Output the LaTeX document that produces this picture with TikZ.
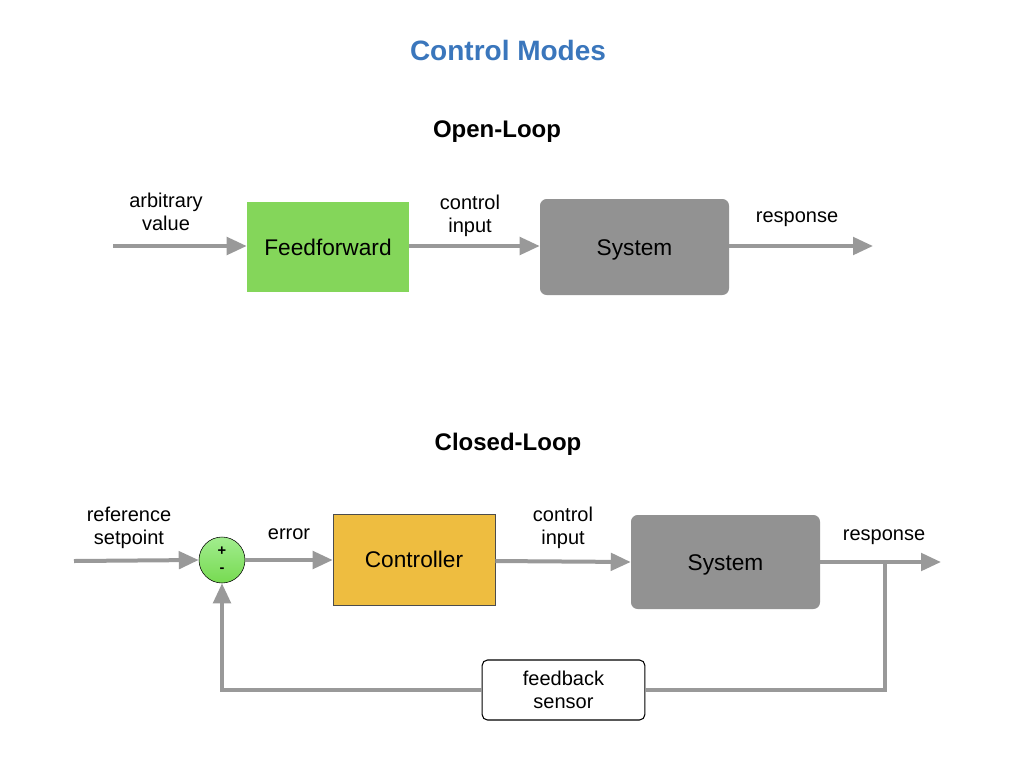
\documentclass[tikz,border=0pt]{standalone}
\usepackage{fontspec}
\setmainfont{Liberation Sans}
\usetikzlibrary{math,arrows.meta}
\definecolor{titleblue}{HTML}{3A76BC}
\definecolor{ffgreen}{HTML}{84D65A}
\definecolor{sysgray}{HTML}{929292}
\definecolor{ctrlyellow}{HTML}{EEBD40}
\definecolor{wiregray}{HTML}{999999}

\begin{document}
\begin{tikzpicture}[x=0.75pt, y=-0.75pt,
    wire/.style={draw=wiregray, line width=3pt, -{Triangle[length=15pt,width=13pt]}},
    line/.style={draw=wiregray, line width=3pt},
    lbl/.style={font=\fontsize{15}{17.5}\selectfont, align=center},
    head/.style={font=\fontsize{18}{21}\selectfont\bfseries},
    blk/.style={font=\fontsize{17}{20}\selectfont, minimum width=121.5pt, inner sep=0pt, text height=12pt, text depth=0pt}]
            \tikzmath{\yo = 246; \yc = 561;}
            \useasboundingbox (0,0) rectangle (1024,768);
            \node[font=\fontsize{21}{25}\selectfont\bfseries, text=titleblue] (T) at (508,50) {Control Modes};

            % open loop
            \node[head] (OL) at (497,132) {Open-Loop};
            \coordinate (A0) at (113,\yo);
            \node[blk, fill=ffgreen, minimum height=67.5pt] (A) at (328,247) {Feedforward};
            \node[blk, fill=sysgray, rounded corners=5pt, minimum width=141.75pt, minimum height=72pt] (B) at (634.5,247) {System};
            \coordinate (C) at (873,\yo);
            \draw[wire] (A0) -- (A.west |- A0);
            \draw[wire] (A.east |- A0) -- (B.west |- A0);
            \draw[wire] (B.east |- A0) -- (C);
            \node[lbl] (L1) at (166,212) {arbitrary\\value};
            \node[lbl] (L2) at (470,216) {control\\input};
            \node[lbl] (L3) at (797,219) {response};

            % closed loop
            \node[head] (CL) at (508,444) {Closed-Loop};
            \coordinate (S0) at (74,\yc);
            \node[circle, draw, thin, top color=green!25!ffgreen!60!white, bottom color=ffgreen!90!green, minimum size=34.5pt, inner sep=0pt,
                  font=\fontsize{11}{12.75}\selectfont\bfseries, align=center] (S) at (222,560) {+\\-};
            \node[blk, fill=ctrlyellow, draw=black!70, thin, minimum height=68.25pt] (D) at (414,559.5) {Controller};
            \node[blk, fill=sysgray, rounded corners=5pt, minimum width=141.75pt, minimum height=70.5pt] (E) at (725.5,562) {System};
            \coordinate (G) at (941,562);
            \coordinate (J) at (885,562);
            \node[lbl, draw, thick, fill=white, rounded corners=4pt, minimum width=122pt, minimum height=45pt, inner sep=0pt] (F) at (563.5,690) {feedback\\sensor};
            \draw[wire] (S0) -- (S.west);
            \draw[wire] (S.east) -- (D.west |- S);
            \draw[wire] (D.east |- 0,\yc) -- (E.west |- G);
            \draw[wire] (E.east |- G) -- (G);
            \draw[line, line join=miter] (J) |- (F.east);
            \draw[wire, line join=miter] (F.west) -| (S.south);
            \node[lbl] (L4) at (129,528) {reference\\setpoint};
            \node[lbl] (L5) at (289,534) {error};
            \node[lbl] (L6) at (563,528) {control\\input};
            \node[lbl] (L7) at (884,537) {response};
        \end{tikzpicture}
\end{document}
